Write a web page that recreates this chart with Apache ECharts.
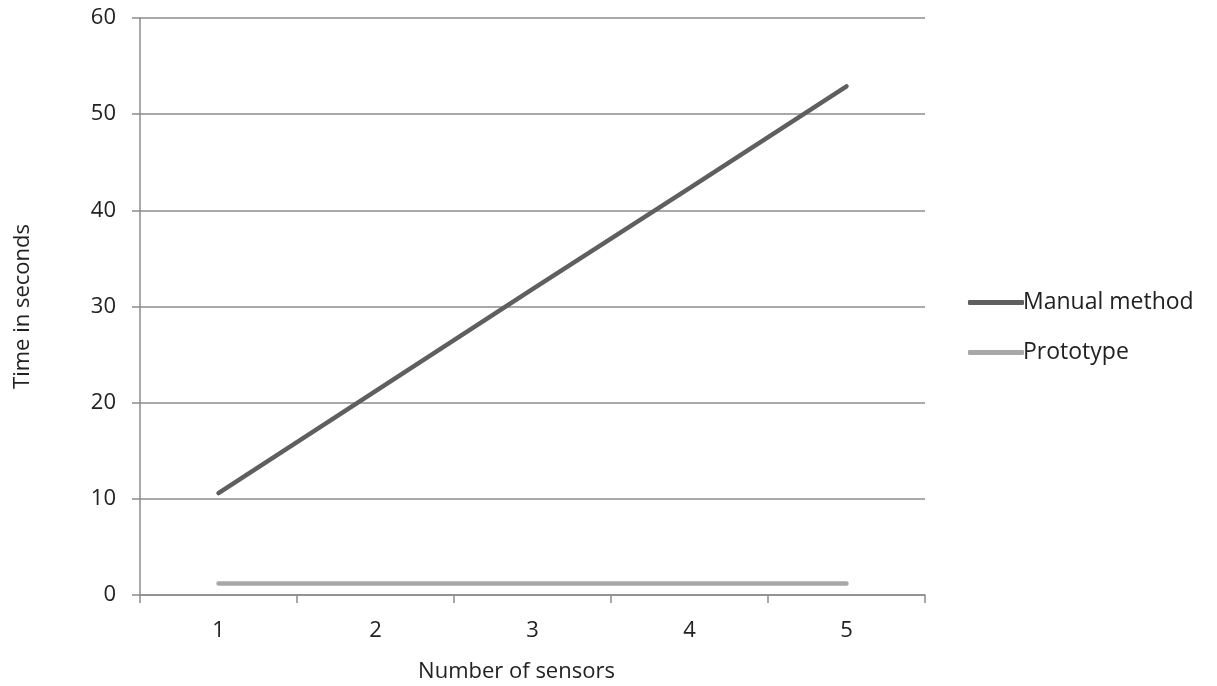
<!DOCTYPE html>
<html><head><meta charset="utf-8">
<script src="https://cdn.jsdelivr.net/npm/echarts@6/dist/echarts.min.js"></script>
<style>html,body{margin:0;padding:0;background:#fff}#c{width:1217px;height:686px}</style>
</head><body><div id="c"></div>
<script>
const categories = ['1','2','3','4','5'];
const manualMethod = [10.6, 21.2, 31.8, 42.3, 52.9];
const prototype = [1.2, 1.2, 1.2, 1.2, 1.2];
const FONT = 'Open Sans';
const chart = echarts.init(document.getElementById('c'));
chart.setOption({
  animation: false,
  textStyle: {fontFamily: FONT},
  grid: {left: 140, right: 292, top: 18, bottom: 91, containLabel: false, outerBoundsMode: 'none'},
  legend: {
    orient: 'vertical', left: 963, top: 286, itemGap: 27,
    itemWidth: 56, itemHeight: 5, icon: 'roundRect',
    textStyle: {fontFamily: FONT, fontSize: 23, color: '#222', padding: [0,0,0,-6]},
    data: ['Manual method', 'Prototype']
  },
  xAxis: {
    type: 'category', data: categories, boundaryGap: true,
    name: 'Number of sensors', nameLocation: 'middle', nameGap: 66,
    nameTextStyle: {fontFamily: FONT, fontSize: 22, color: '#222', padding: [0, 32, 0, 0]},
    axisLine: {lineStyle: {color: '#8c8c8c', width: 1.5}},
    axisTick: {show: true, length: 8, lineStyle: {color: '#8c8c8c', width: 1.5}},
    axisLabel: {fontFamily: FONT, fontSize: 22, color: '#222', margin: 25},
    splitLine: {show: false}
  },
  yAxis: {
    type: 'value', min: 0, max: 60, interval: 10,
    name: 'Time in seconds', nameLocation: 'middle', nameGap: 106, nameRotate: 90,
    nameTextStyle: {fontFamily: FONT, fontSize: 22, color: '#222'},
    axisLine: {show: true, lineStyle: {color: '#8c8c8c', width: 1.5}},
    axisTick: {show: true, length: 8, lineStyle: {color: '#8c8c8c', width: 1.5}},
    axisLabel: {fontFamily: FONT, fontSize: 22, color: '#222', margin: 24},
    splitLine: {show: true, lineStyle: {color: '#8c8c8c', width: 1.5}}
  },
  series: [
    {name: 'Manual method', type: 'line', data: manualMethod, showSymbol: false, symbol: 'none',
     lineStyle: {color: '#5f5f5f', width: 4.5, cap: 'round'}, itemStyle: {color: '#5f5f5f'}},
    {name: 'Prototype', type: 'line', data: prototype, showSymbol: false, symbol: 'none',
     lineStyle: {color: '#a8a8a8', width: 4.5, cap: 'round'}, itemStyle: {color: '#a8a8a8'}}
  ]
});
</script></body></html>
